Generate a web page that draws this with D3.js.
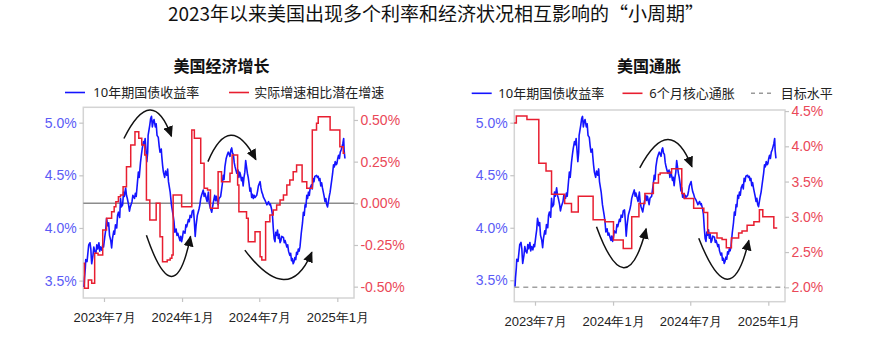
<!DOCTYPE html>
<html><head><meta charset="utf-8">
<script src="https://cdn.jsdelivr.net/npm/d3@7"></script>
<style>
html,body{margin:0;padding:0;background:#fff;}
svg{display:block;font-family:"Noto Sans","Noto Sans CJK SC",sans-serif;}
</style></head><body>
<svg id="chart" width="872" height="342"></svg>
<script>
// ---------------- data ----------------
const mainTitle = "2023年以来美国出现多个利率和经济状况相互影响的“小周期”";
const leftTitle = "美国经济增长";
const rightTitle = "美国通胀";
const yieldLabel = "10年期国债收益率";
const growthLabel = "实际增速相比潜在增速";
const inflationLabel = "6个月核心通胀";
const targetLabel = "目标水平";

const xTickDates = ["2023-07-01","2024-01-01","2024-07-01","2025-01-01"];
const xTickLabels = ["2023年7月","2024年1月","2024年7月","2025年1月"];
const yieldTicks = [3.5, 4.0, 4.5, 5.0];
const growthTicks = [-0.5, -0.25, 0, 0.25, 0.5];
const inflationTicks = [2.0, 2.5, 3.0, 3.5, 4.0, 4.5];
const growthBaseline = 0;
const inflationTarget = 2.0;

const yield10y = [
["2023-05-15",3.44],["2023-05-16",3.52],["2023-05-18",3.62],["2023-05-19",3.70],["2023-05-22",3.68],["2023-05-24",3.76],
["2023-05-26",3.84],["2023-05-29",3.86],["2023-05-31",3.80],["2023-06-01",3.72],["2023-06-02",3.66],["2023-06-05",3.74],
["2023-06-07",3.82],["2023-06-09",3.78],["2023-06-12",3.76],["2023-06-14",3.84],["2023-06-16",3.80],["2023-06-19",3.86],
["2023-06-21",3.78],["2023-06-23",3.82],["2023-06-26",3.79],["2023-06-28",3.84],["2023-06-30",3.82],["2023-07-03",3.92],
["2023-07-05",3.98],["2023-07-07",4.09],["2023-07-10",4.02],["2023-07-12",4.05],["2023-07-14",3.93],["2023-07-17",3.88],
["2023-07-19",3.81],["2023-07-21",3.90],["2023-07-24",3.97],["2023-07-26",3.94],["2023-07-28",4.03],["2023-07-31",4.00],
["2023-08-02",4.12],["2023-08-04",4.15],["2023-08-07",4.10],["2023-08-09",4.28],["2023-08-11",4.20],["2023-08-14",4.22],
["2023-08-16",4.34],["2023-08-18",4.30],["2023-08-21",4.38],["2023-08-23",4.31],["2023-08-25",4.28],["2023-08-28",4.22],
["2023-08-30",4.16],["2023-09-01",4.20],["2023-09-05",4.25],["2023-09-07",4.31],["2023-09-11",4.28],["2023-09-13",4.33],
["2023-09-15",4.30],["2023-09-18",4.44],["2023-09-20",4.53],["2023-09-22",4.48],["2023-09-25",4.62],["2023-09-27",4.69],
["2023-09-29",4.75],["2023-10-02",4.82],["2023-10-04",4.79],["2023-10-06",4.85],["2023-10-10",4.63],["2023-10-12",4.72],
["2023-10-13",4.88],["2023-10-17",4.98],["2023-10-19",5.04],["2023-10-21",5.06],["2023-10-23",4.96],["2023-10-25",5.01],
["2023-10-27",5.03],["2023-10-30",4.96],["2023-11-01",4.99],["2023-11-03",4.88],["2023-11-06",4.86],["2023-11-08",4.78],
["2023-11-10",4.72],["2023-11-13",4.75],["2023-11-14",4.69],["2023-11-16",4.60],["2023-11-18",4.53],["2023-11-21",4.48],
["2023-11-23",4.54],["2023-11-26",4.50],["2023-11-28",4.56],["2023-11-30",4.44],["2023-12-04",4.34],["2023-12-06",4.26],
["2023-12-07",4.22],["2023-12-11",4.12],["2023-12-13",4.06],["2023-12-15",3.96],["2023-12-18",3.99],["2023-12-20",3.93],
["2023-12-22",3.95],["2023-12-27",3.88],["2023-12-29",3.92],["2023-12-31",3.87],["2024-01-02",3.91],["2024-01-04",3.97],
["2024-01-08",3.95],["2024-01-10",4.03],["2024-01-12",4.01],["2024-01-16",4.08],["2024-01-18",4.06],["2024-01-20",4.12],
["2024-01-23",4.10],["2024-01-25",4.16],["2024-01-28",4.17],["2024-01-30",4.06],["2024-02-01",3.92],["2024-02-03",4.02],
["2024-02-06",4.12],["2024-02-08",4.15],["2024-02-10",4.18],["2024-02-12",4.22],["2024-02-14",4.28],["2024-02-16",4.31],
["2024-02-20",4.36],["2024-02-22",4.30],["2024-02-24",4.33],["2024-02-27",4.28],["2024-02-29",4.25],["2024-03-03",4.34],
["2024-03-05",4.24],["2024-03-07",4.20],["2024-03-11",4.15],["2024-03-13",4.20],["2024-03-15",4.25],["2024-03-18",4.31],
["2024-03-20",4.26],["2024-03-22",4.30],["2024-03-26",4.22],["2024-03-28",4.28],["2024-04-01",4.30],["2024-04-03",4.36],
["2024-04-05",4.42],["2024-04-07",4.50],["2024-04-09",4.46],["2024-04-11",4.58],["2024-04-14",4.66],["2024-04-17",4.70],
["2024-04-19",4.72],["2024-04-23",4.68],["2024-04-25",4.74],["2024-04-27",4.76],["2024-04-29",4.71],["2024-05-01",4.70],
["2024-05-03",4.62],["2024-05-05",4.58],["2024-05-07",4.55],["2024-05-09",4.52],["2024-05-12",4.55],["2024-05-14",4.48],
["2024-05-16",4.53],["2024-05-18",4.50],["2024-05-20",4.45],["2024-05-22",4.48],["2024-05-24",4.40],["2024-05-26",4.48],
["2024-05-28",4.53],["2024-05-30",4.64],["2024-06-01",4.58],["2024-06-03",4.52],["2024-06-05",4.48],["2024-06-07",4.42],
["2024-06-09",4.35],["2024-06-11",4.38],["2024-06-13",4.29],["2024-06-15",4.32],["2024-06-17",4.28],["2024-06-19",4.31],
["2024-06-21",4.29],["2024-06-25",4.31],["2024-06-27",4.35],["2024-06-29",4.40],["2024-07-03",4.44],["2024-07-05",4.38],
["2024-07-07",4.34],["2024-07-09",4.32],["2024-07-11",4.29],["2024-07-15",4.26],["2024-07-17",4.24],["2024-07-19",4.22],
["2024-07-23",4.25],["2024-07-25",4.22],["2024-07-27",4.23],["2024-07-30",4.18],["2024-08-01",4.13],["2024-08-03",4.00],
["2024-08-05",3.90],["2024-08-07",3.87],["2024-08-09",3.96],["2024-08-11",3.93],["2024-08-13",3.98],["2024-08-15",3.90],
["2024-08-17",3.94],["2024-08-19",3.86],["2024-08-21",3.88],["2024-08-23",3.92],["2024-08-27",3.91],["2024-08-29",3.86],
["2024-08-31",3.88],["2024-09-04",3.82],["2024-09-06",3.84],["2024-09-08",3.78],["2024-09-11",3.74],["2024-09-13",3.76],
["2024-09-15",3.69],["2024-09-17",3.71],["2024-09-19",3.66],["2024-09-21",3.68],["2024-09-23",3.72],["2024-09-25",3.70],
["2024-09-27",3.77],["2024-09-29",3.75],["2024-10-01",3.80],["2024-10-03",3.78],["2024-10-05",3.82],["2024-10-08",3.95],
["2024-10-11",4.05],["2024-10-13",4.15],["2024-10-15",4.12],["2024-10-17",4.22],["2024-10-19",4.20],["2024-10-21",4.31],
["2024-10-23",4.28],["2024-10-25",4.34],["2024-10-27",4.31],["2024-10-29",4.38],["2024-11-01",4.41],["2024-11-03",4.37],
["2024-11-05",4.47],["2024-11-07",4.44],["2024-11-09",4.49],["2024-11-13",4.50],["2024-11-15",4.48],["2024-11-17",4.49],
["2024-11-19",4.45],["2024-11-21",4.47],["2024-11-23",4.40],["2024-11-25",4.43],["2024-11-27",4.38],["2024-11-29",4.34],
["2024-12-01",4.30],["2024-12-03",4.25],["2024-12-05",4.28],["2024-12-07",4.22],["2024-12-09",4.20],["2024-12-11",4.25],
["2024-12-13",4.30],["2024-12-15",4.34],["2024-12-17",4.40],["2024-12-19",4.46],["2024-12-21",4.52],["2024-12-23",4.60],
["2024-12-25",4.58],["2024-12-27",4.63],["2024-12-29",4.60],["2024-12-31",4.61],["2025-01-02",4.66],["2025-01-04",4.69],
["2025-01-06",4.66],["2025-01-08",4.72],["2025-01-10",4.74],["2025-01-12",4.77],["2025-01-14",4.80],["2025-01-16",4.85],
["2025-01-17",4.74],["2025-01-19",4.66]
];

// step series: value holds until the next date
const growthGap = [
["2023-05-14",-0.36],["2023-05-16",-0.51],["2023-05-25",-0.46],["2023-06-02",-0.48],["2023-06-09",-0.30],["2023-06-17",-0.31],
["2023-06-28",-0.16],["2023-07-07",-0.09],["2023-07-19",-0.05],["2023-07-25",-0.02],["2023-07-29",0.01],["2023-08-04",0.04],
["2023-08-09",0.05],["2023-08-15",0.10],["2023-08-23",0.22],["2023-09-02",0.35],["2023-09-12",0.43],["2023-09-21",0.39],
["2023-09-28",0.35],["2023-10-05",0.29],["2023-10-09",0.02],["2023-10-17",-0.10],["2023-11-01",0.00],["2023-11-10",-0.20],
["2023-11-16",-0.35],["2023-11-27",-0.34],["2023-12-04",-0.33],["2023-12-08",-0.31],["2023-12-11",0.05],["2023-12-31",-0.02],
["2024-01-24",0.44],["2024-01-30",0.39],["2024-02-14",0.24],["2024-02-22",0.09],["2024-03-01",0.08],["2024-03-08",-0.03],
["2024-03-26",0.19],["2024-04-03",0.13],["2024-04-23",0.18],["2024-04-28",0.29],["2024-05-11",0.11],["2024-05-14",-0.05],
["2024-06-01",-0.09],["2024-06-05",-0.23],["2024-06-21",-0.17],["2024-07-03",-0.32],["2024-07-07",-0.34],["2024-07-16",-0.11],
["2024-07-26",-0.07],["2024-08-03",-0.04],["2024-08-11",-0.01],["2024-08-19",0.02],["2024-08-27",0.05],["2024-09-04",0.11],
["2024-09-11",0.14],["2024-09-19",0.19],["2024-09-27",0.23],["2024-10-10",0.13],["2024-10-21",0.09],["2024-11-03",0.44],
["2024-11-13",0.48],["2024-11-17",0.52],["2024-12-15",0.44],["2025-01-07",0.34],["2025-01-15",0.30],["2025-01-19",0.30]
];

const coreInflation6m = [
["2023-05-13",4.33],["2023-05-18",4.43],["2023-06-12",4.38],["2023-07-10",3.76],["2023-07-27",3.65],["2023-08-09",3.32],
["2023-09-09",3.19],["2023-09-25",3.07],["2023-10-11",3.29],["2023-11-15",2.96],["2023-12-13",2.93],["2024-01-02",2.67],
["2024-01-25",2.55],["2024-02-14",3.00],["2024-03-02",3.19],["2024-03-16",3.33],["2024-04-05",3.48],["2024-04-17",3.60],
["2024-04-21",3.62],["2024-05-18",3.68],["2024-06-11",3.33],["2024-06-17",3.26],["2024-07-09",3.12],["2024-08-02",3.06],
["2024-08-11",2.77],["2024-09-02",2.70],["2024-09-14",2.68],["2024-09-24",2.56],["2024-10-06",2.70],["2024-10-23",2.77],
["2024-10-31",2.80],["2024-11-12",2.88],["2024-11-28",2.93],["2024-12-11",3.10],["2024-12-19",3.00],["2025-01-14",2.84],
["2025-01-22",2.84]
];

// curved-arrow annotations on the yield axis: [start, turning point, end]
const growthArrows = [
  [["2023-08-17",4.85],["2023-10-17",5.12],["2023-12-07",4.87]],
  [["2024-03-02",4.63],["2024-04-25",4.88],["2024-06-23",4.65]],
  [["2023-10-09",3.93],["2023-12-07",3.54],["2024-01-21",3.92]],
  [["2024-05-28",3.79],["2024-08-27",3.51],["2024-11-02",3.77]]
];
const inflationArrows = [
  [["2024-03-04",4.57],["2024-05-09",4.84],["2024-07-05",4.58]],
  [["2023-11-23",4.01],["2024-01-26",3.62],["2024-03-19",3.99]],
  [["2024-07-21",3.90],["2024-09-26",3.51],["2024-11-16",3.88]]
];

// ---------------- drawing ----------------
const parse = d3.timeParse("%Y-%m-%d");
const BLUE = "#1414ff", RED = "#e81e30", BLUE_TXT = "#5b5bf6", RED_TXT = "#ea4858";
const svg = d3.select("#chart");

svg.append("defs").append("marker")
  .attr("id","arrowhead").attr("markerUnits","userSpaceOnUse")
  .attr("markerWidth",12).attr("markerHeight",10).attr("refX",10).attr("refY",5)
  .attr("orient","auto")
  .append("path").attr("d","M0,0 L11,5 L0,10 Z").attr("fill","#111");

svg.append("text").attr("x",436).attr("y",21).attr("text-anchor","middle")
  .style("font-family","'Noto Sans CJK SC', sans-serif").style("font-size","19px")
  .attr("fill","#111").text(mainTitle);

function panel(cfg) {
  const g = svg.append("g");
  const x = d3.scaleTime()
    .domain([new Date(2023,4,13,5), new Date(2025,1,9,8)])
    .range([cfg.left, cfg.right]);
  const yL = d3.scaleLinear().domain(cfg.yLeftDomain).range([cfg.bottom, cfg.top]);
  const yR = d3.scaleLinear().domain(cfg.yRightDomain).range([cfg.bottom, cfg.top]);

  // subtitle
  g.append("text").attr("x",cfg.titleX).attr("y",72).attr("text-anchor","middle")
    .style("font-family","'Noto Sans CJK SC', sans-serif").style("font-size","16px")
    .style("font-weight","bold").attr("fill","#111").text(cfg.title);

  // legend
  const lg = g.append("g");
  cfg.legend.forEach(item => {
    lg.append("line").attr("x1",item.x).attr("x2",item.x+20).attr("y1",cfg.legendY).attr("y2",cfg.legendY)
      .attr("stroke",item.color).attr("stroke-width",1.6)
      .attr("stroke-dasharray", item.dash || null);
    lg.append("text").attr("x",item.tx).attr("y",cfg.legendY).attr("dy","0.36em")
      .style("font-size","13px").attr("fill","#222").text(item.label);
  });

  // frame
  g.append("rect").attr("x",cfg.left).attr("y",cfg.top)
    .attr("width",cfg.right-cfg.left).attr("height",cfg.bottom-cfg.top)
    .attr("fill","none").attr("stroke","#d4d4d4").attr("stroke-width",1.5);

  // axes
  const styleAxis = (sel, color, size) => {
    sel.select(".domain").remove();
    sel.selectAll(".tick line").attr("stroke","#c4c4c4").attr("stroke-width",1.2);
    sel.selectAll(".tick text").attr("fill",color).style("font-size",size);
  };
  const xAxis = g.append("g").attr("transform",`translate(0,${cfg.bottom})`)
    .call(d3.axisBottom(x).tickValues(xTickDates.map(parse)).tickSize(4)
      .tickFormat((d,i) => xTickLabels[i]));
  styleAxis(xAxis, "#222", "13px");
  xAxis.selectAll(".tick text").attr("y",24).attr("dy",0);

  const yAxisL = g.append("g").attr("transform",`translate(${cfg.left},0)`)
    .call(d3.axisLeft(yL).tickValues(yieldTicks).tickSize(4).tickPadding(2.6)
      .tickFormat(d => d.toFixed(1) + "%"));
  styleAxis(yAxisL, BLUE_TXT, "14px");

  const yAxisR = g.append("g").attr("transform",`translate(${cfg.right},0)`)
    .call(d3.axisRight(yR).tickValues(cfg.rightTicks).tickSize(4).tickPadding(2.4)
      .tickFormat(cfg.rightFormat));
  styleAxis(yAxisR, RED_TXT, "14px");

  // reference line
  g.append("line").attr("x1",cfg.left).attr("x2",cfg.right)
    .attr("y1",yR(cfg.refValue)).attr("y2",yR(cfg.refValue))
    .attr("stroke",cfg.refColor).attr("stroke-width",1.5)
    .attr("stroke-dasharray",cfg.refDash || null);

  // series
  const blueLine = d3.line().x(d => x(parse(d[0]))).y(d => yL(d[1]));
  g.append("path").datum(yield10y).attr("d",blueLine)
    .attr("fill","none").attr("stroke",BLUE).attr("stroke-width",1.6).attr("stroke-linejoin","round");

  const redLine = d3.line().curve(d3.curveStepAfter).x(d => x(parse(d[0]))).y(d => yR(d[1]));
  g.append("path").datum(cfg.redData).attr("d",redLine)
    .attr("fill","none").attr("stroke",RED).attr("stroke-width",1.5);

  // arrows
  cfg.arrows.forEach(a => {
    const p = a.map(d => [x(parse(d[0])), yL(d[1])]);
    const cx = 2*p[1][0] - (p[0][0]+p[2][0])/2;
    const cy = 2*p[1][1] - (p[0][1]+p[2][1])/2;
    g.append("path")
      .attr("d",`M${p[0][0]},${p[0][1]} Q${cx},${cy} ${p[2][0]},${p[2][1]}`)
      .attr("fill","none").attr("stroke","#111").attr("stroke-width",1.5)
      .attr("marker-end","url(#arrowhead)");
  });
}

panel({
  left:83.3, right:354, top:107.3, bottom:298,
  yLeftDomain:[3.335, 5.146], yRightDomain:[-0.568, 0.576],
  rightTicks: growthTicks, rightFormat: d => d.toFixed(2) + "%",
  redData: growthGap, refValue: growthBaseline, refColor:"#8c8c8c",
  arrows: growthArrows, title: leftTitle, titleX: 221.5, legendY: 92.5,
  legend: [
    {x:65, tx:93.3, color:BLUE, label:yieldLabel},
    {x:229, tx:254.3, color:RED, label:growthLabel}
  ]
});

panel({
  left:514.3, right:785, top:110, bottom:301.7,
  yLeftDomain:[3.296, 5.121], yRightDomain:[1.796, 4.515],
  rightTicks: inflationTicks, rightFormat: d => d.toFixed(1) + "%",
  redData: coreInflation6m, refValue: inflationTarget, refColor:"#a0a0a0", refDash:"5,4",
  arrows: inflationArrows, title: rightTitle, titleX: 649, legendY: 93.3,
  legend: [
    {x:471.7, tx:498.3, color:BLUE, label:yieldLabel},
    {x:622.5, tx:649.3, color:RED, label:inflationLabel},
    {x:751, tx:780.7, color:"#9a9a9a", dash:"4,4", label:targetLabel}
  ]
});
</script>
</body></html>
